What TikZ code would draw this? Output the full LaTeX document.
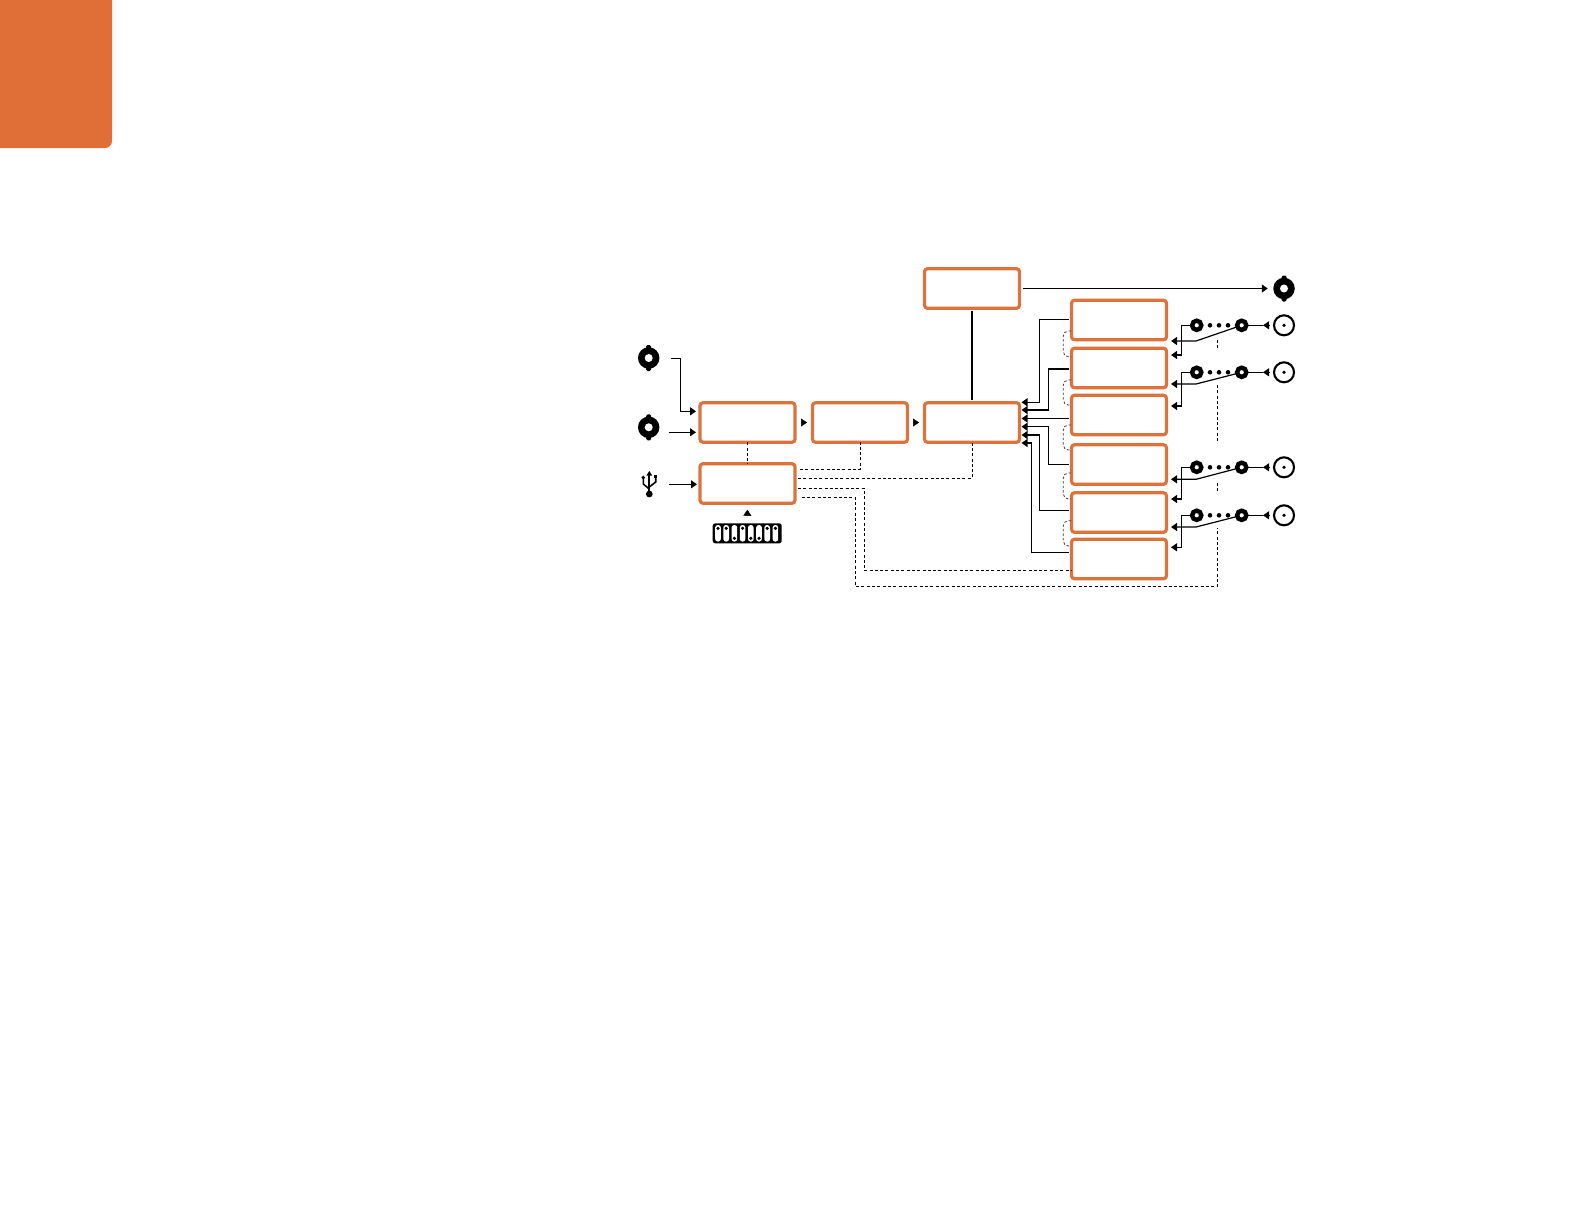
\documentclass[tikz,border=0pt]{standalone}
\usepackage{xcolor}
\usetikzlibrary{arrows.meta,calc}
\definecolor{tabfill}{HTML}{E06F37}
\definecolor{boxedge}{HTML}{DC723C}
\tikzset{
  blockbox/.style={draw=boxedge, line width=3.2pt, rounded corners=3pt, minimum width=95pt, minimum height=39.5pt, inner sep=0pt, outer sep=0pt},
  sigline/.style={line width=1.2pt},
  sigarrow/.style={line width=1.2pt, -{Triangle[length=6pt,width=8pt]}},
  headonly/.style={line width=0.5pt, -{Triangle[length=6pt,width=8pt]}},
  ctlline/.style={line width=1pt, dash pattern=on 3pt off 2.3pt},
  looplink/.style={line width=0.8pt, draw=black!75, dash pattern=on 2.5pt off 2pt, rounded corners=5pt},
  ringjack/.style={circle, draw, fill=white, line width=4.4pt, minimum size=9.2pt, inner sep=0pt, outer sep=0pt},
  smalldot/.style={circle, fill, minimum size=4.6pt, inner sep=0pt, outer sep=0pt},
  tinydot/.style={circle, fill, minimum size=3.6pt, inner sep=0pt, outer sep=0pt},
  loopjack/.style={circle, draw, line width=2.1pt, minimum size=20pt, inner sep=0pt, outer sep=0pt},
  jackbody/.style={circle, fill, minimum size=21.5pt, inner sep=0pt, outer sep=0pt},
  jackhole/.style={circle, fill=white, minimum size=8pt, inner sep=0pt, outer sep=0pt},
  dipslot/.style={fill=white, rounded corners=2.5pt, minimum width=5.6pt, minimum height=16.5pt, inner sep=0pt, outer sep=0pt}
}
\begin{document}
\begin{tikzpicture}[x=1pt, y=-1pt]
\useasboundingbox (0,0) rectangle (1584,1224);
% corner tab
\fill[tabfill] (0,0) -- (112,0) -- (112,141) arc (0:90:7) -- (0,148) -- cycle;
% blocks
\node[blockbox] (selbox) at (747.5,422.5) {};
\node[blockbox] (ctrlbox) at (747.5,483.5) {};
\node[blockbox] (lutbox) at (860,422.5) {};
\node[blockbox] (procbox) at (972,422.5) {};
\node[blockbox] (monbox) at (972,288.5) {};
\node[blockbox] (outa) at (1119,320) {};
\node[blockbox] (outb) at (1119,368) {};
\node[blockbox] (outc) at (1119,415) {};
\node[blockbox] (outd) at (1119,464.5) {};
\node[blockbox] (oute) at (1119,512.5) {};
\node[blockbox] (outf) at (1119,559) {};
% filled jacks
\foreach \n/\x/\y in {jacka/648.7/358, jackb/648.7/427.3, jackc/1284/288.5} {
  \node[jackbody] (\n) at (\x,\y) {};
  \fill[rounded corners=1.5pt] ($(\n)+(-2.5,-13)$) rectangle ($(\n)+(2.5,13)$);
  \node[jackhole] (hole\n) at (\n) {};
}
% usb
\coordinate (usb) at (649.3,484.3);
\draw[line width=1.7pt, -{Triangle[length=4.5pt,width=5.5pt]}] (649.3,494) -- (649.3,471);
\draw[line width=1.6pt] (649.3,489) -- (643.3,484) -- (643.3,478);
\draw[line width=1.6pt] (649.3,487) -- (655.7,482) -- (655.7,477);
\fill (643.3,477.5) circle (1.9);
\fill (654,475) rectangle (657.4,478.4);
\fill (649.3,494) circle (3.4);
% dip switch
\node[fill, rounded corners=2.5pt, minimum width=69pt, minimum height=20pt, inner sep=0pt, outer sep=0pt] (dip) at (747.2,533.3) {};
\foreach \k/\d in {0/-5,1/-5,2/5,3/-5,4/5,5/5,6/-5,7/-5} {
  \node[dipslot] (slot\k) at (718+8.2*\k,533.3) {};
  \node[tinydot] (pin\k) at (718+8.2*\k,533.3+\d) {};
}
% inputs
\coordinate (ina) at (670.7,358.3);
\coordinate (inb) at (669,432.3);
\draw[sigarrow] (ina) -| (680.3,411.3) -- (696,411.3);
\draw[sigarrow] (inb) -- (696,432.3);
\draw[sigarrow] ($(usb)+(19.7,0)$) -- ($(ctrlbox.west)+(-3,0.8)$);
% heads between blocks
\draw[headonly, shorten <=7pt, shorten >=5.5pt] (selbox) -- (lutbox);
\draw[headonly, shorten <=5.5pt, shorten >=5.5pt] (lutbox) -- (procbox);
\draw[headonly, shorten <=7.3pt, shorten >=6.5pt] (dip) -- (ctrlbox);
% monitor path
\draw[sigline, shorten <=3pt, shorten >=3pt] (monbox) -- (procbox);
\draw[headonly, line width=1.2pt, shorten <=3.5pt, shorten >=5.5pt] (monbox) -- (jackc);
% returns into processor
\foreach \n/\s/\xx/\t in {outa/-0.7/1039.3/-20.2, outb/1/1048.7/-12.5, outc/3.5/1040/-4, outd/-0.2/1048.7/4.2, oute/-2.2/1039.3/12.5, outf/-6.7/1031.3/20.5} {
  \draw[sigarrow] ($(\n.west)+(-3,\s)$) -| (\xx,422.5+\t) -- ($(procbox.east)+(2,\t)$);
}
% dashed loops
\foreach \n/\ya/\yb in {outa/331/356.7, outb/380/405, outc/425/450, outd/473/499, oute/520.7/546} {
  \draw[looplink] (1071,\ya) -- (1063.3,\ya) -- (1063.3,\yb) -- (1071,\yb);
}
% control lines
\draw[ctlline] (selbox) -- (ctrlbox);
\draw[ctlline] (800,469.3) -| (lutbox.south);
\draw[ctlline] (798,478.3) -| (procbox.south);
\draw[ctlline] (798,488.3) -| (864.3,570.5) -- (outf.west |- 0,570.5);
\draw[ctlline] (801.7,497.3) -| (855.3,586) -| (1217.7,528);
\foreach \ya/\yb in {340/350, 385/443, 483/493} {
  \draw[ctlline] (1217.7,\ya) -- (1217.7,\yb);
}
% output jacks
\foreach \n/\yy/\ya/\yb in {a/325.3/341/355, b/372.3/384/406, c/467.3/479.3/499, d/515.3/527/547.3} {
  \node[loopjack] (loop\n) at (1284,\yy) {};
  \node[tinydot] (centre\n) at (loop\n) {};
  \node[ringjack] (ringl\n) at (1196.7,\yy) {};
  \node[ringjack] (ringr\n) at (1241.7,\yy) {};
  \foreach \d/\xd in {1/1210,2/1219,3/1228} {
    \node[smalldot] (dot\n\d) at (\xd,\yy) {};
  }
  \coordinate (head\n) at (1263,\yy);
  \draw[sigline] (ringr\n) -- (head\n);
  \draw[headonly, shorten <=4.5pt] (loop\n.west) -- (head\n);
  \draw[sigarrow] (ringl\n.west) -| (1181.7,\yb) -- (1171,\yb);
  \draw[sigarrow] (ringr\n) -- (1196,\ya) -- (1171,\ya);
}
\end{tikzpicture}
\end{document}
